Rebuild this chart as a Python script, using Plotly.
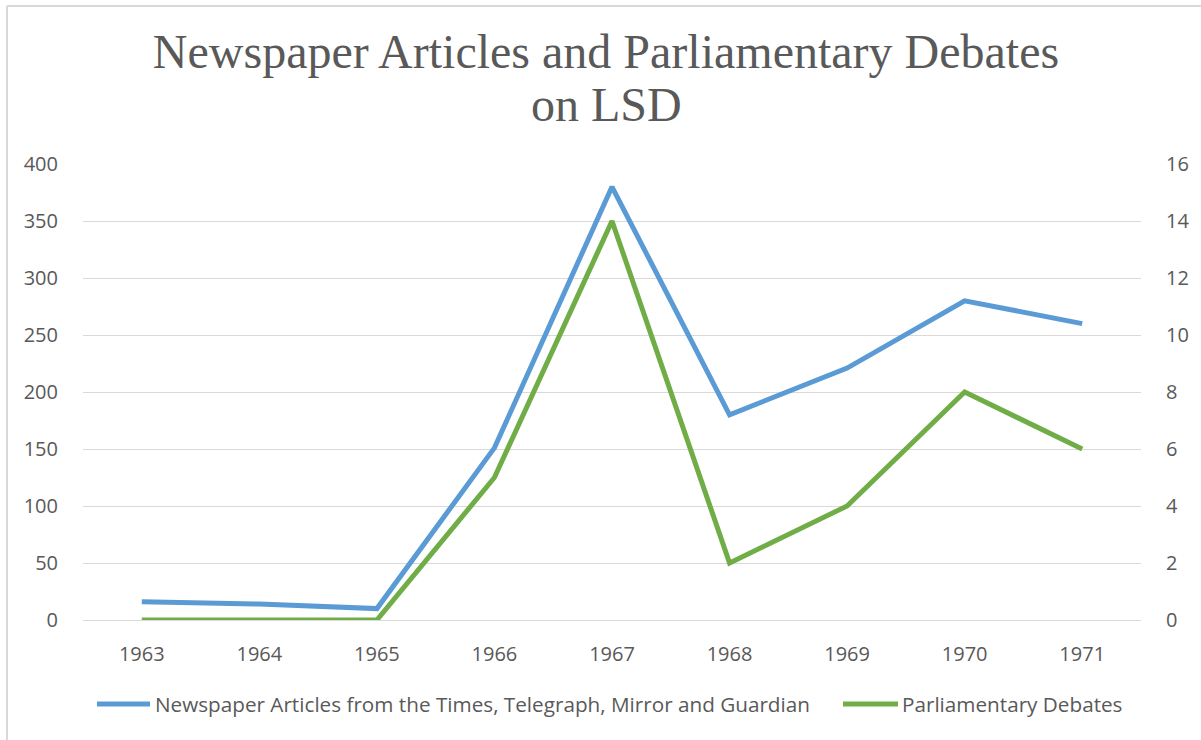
import plotly.graph_objects as go

# Data
years = ["1963", "1964", "1965", "1966", "1967", "1968", "1969", "1970", "1971"]
newspaper_articles = [16, 14, 10, 151, 380, 180, 221, 280, 260]
parliamentary_debates = [0, 0, 0, 5, 14, 2, 4, 8, 6]

series_names = [
    "Newspaper Articles from the Times, Telegraph, Mirror and Guardian",
    "Parliamentary Debates",
]
series_colors = ["#5B9BD5", "#70AD47"]
title_line1 = "Newspaper Articles and Parliamentary Debates"
title_line2 = "on LSD"

# Layout geometry (pixels)
W, H = 1201, 740
ML, MR, MT, MB = 83, 60, 164, 120
PW, PH = W - ML - MR, H - MT - MB


def px_x(px):
    return (px - ML) / PW


def px_y(py):
    return (H - MB - py) / PH


TEXT = "#595959"
GRID = "#d9d9d9"
TICK_FONT = dict(family="Open Sans", size=20, color=TEXT)

fig = go.Figure()
fig.add_trace(go.Scatter(
    x=years, y=newspaper_articles, name=series_names[0], mode="lines",
    line=dict(color=series_colors[0], width=5), yaxis="y",
))
fig.add_trace(go.Scatter(
    x=years, y=parliamentary_debates, name=series_names[1], mode="lines",
    line=dict(color=series_colors[1], width=5), yaxis="y2",
))

fig.update_layout(
    width=W, height=H,
    margin=dict(l=ML, r=MR, t=MT, b=MB),
    paper_bgcolor="white", plot_bgcolor="white",
    title=dict(
        text=title_line1, x=606 / W, xanchor="center",
        y=1 - 68 / H, yanchor="bottom", yref="container",
        font=dict(family="Liberation Serif", size=48, color=TEXT),
        pad=dict(t=0, b=0, l=0, r=0),
    ),
    xaxis=dict(
        type="category", range=[-0.5, 8.5], showgrid=False,
        showline=True, linecolor=GRID, linewidth=1,
        ticks="outside", ticklen=16, tickcolor="rgba(0,0,0,0)",
        tickfont=TICK_FONT, fixedrange=True,
    ),
    yaxis=dict(
        range=[0, 400], dtick=50, showgrid=True, gridcolor=GRID, gridwidth=1,
        zeroline=False, showline=False,
        ticks="outside", ticklen=20, tickcolor="rgba(0,0,0,0)",
        tickfont=TICK_FONT,
    ),
    yaxis2=dict(
        range=[0, 16], dtick=2, overlaying="y", side="right", showgrid=False,
        zeroline=False, showline=False,
        ticks="outside", ticklen=20, tickcolor="rgba(0,0,0,0)",
        tickfont=TICK_FONT,
    ),
    showlegend=False,
)

# Second title line
fig.add_annotation(
    text=title_line2, xref="paper", yref="paper",
    x=px_x(606), y=px_y(122), xanchor="center", yanchor="bottom",
    showarrow=False, yshift=-11,
    font=dict(family="Liberation Serif", size=48, color=TEXT),
)

# Legend row below the plot: a line swatch followed by the series name
legend_y = px_y(704)
legend_items = [(97, 150, 153), (843, 898, 900)]
for (x0, x1, xt), name, color in zip(legend_items, series_names, series_colors):
    fig.add_shape(type="line", xref="paper", yref="paper",
                  x0=px_x(x0), x1=px_x(x1), y0=legend_y, y1=legend_y,
                  line=dict(color=color, width=5))
    fig.add_annotation(
        text=name, xref="paper", yref="paper", x=px_x(xt), y=legend_y,
        xanchor="left", yanchor="middle", showarrow=False,
        font=dict(family="Open Sans", size=20.7, color=TEXT),
    )

# Chart frame (top and left edges)
frame = dict(color=GRID, width=2)
fig.add_shape(type="line", xref="paper", yref="paper",
              x0=px_x(7), x1=px_x(W + 5), y0=px_y(6), y1=px_y(6), line=frame)
fig.add_shape(type="line", xref="paper", yref="paper",
              x0=px_x(7), x1=px_x(7), y0=px_y(6), y1=px_y(H + 5), line=frame)

fig.write_html("out.html")
